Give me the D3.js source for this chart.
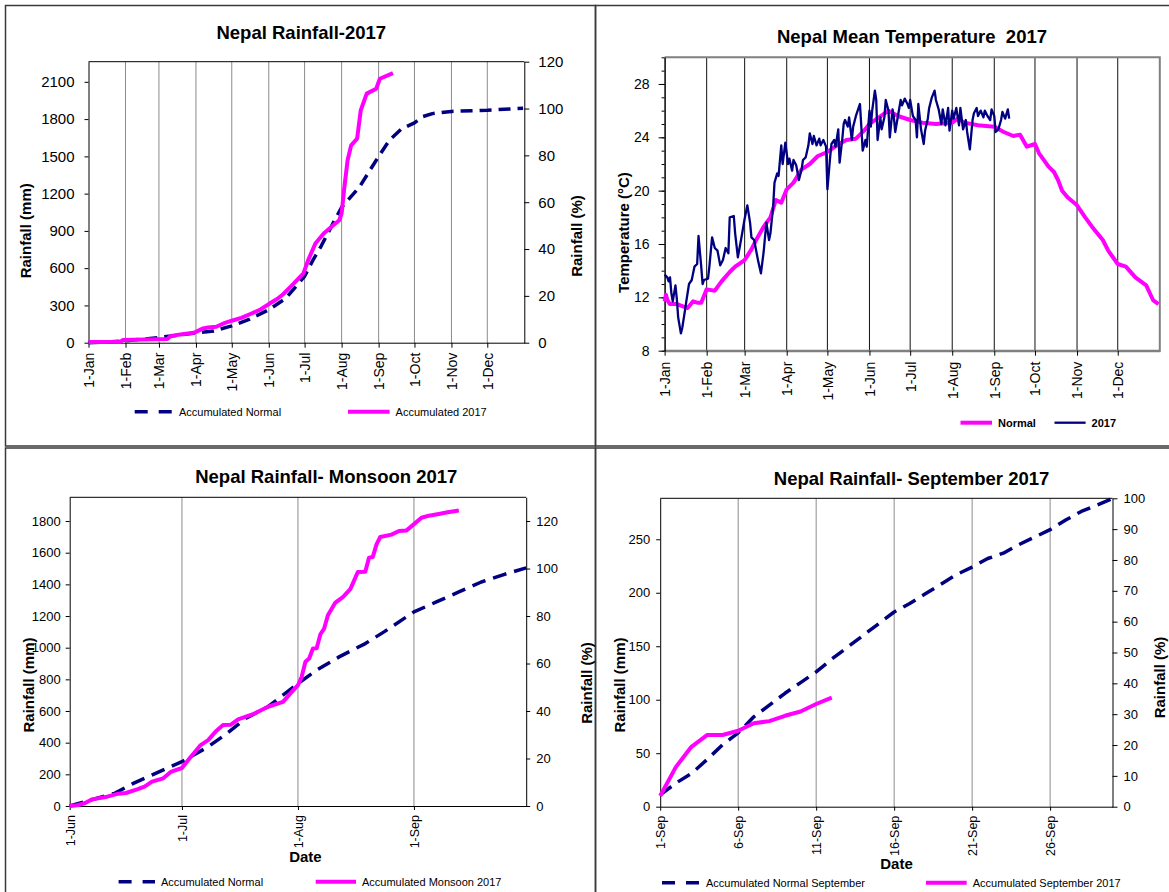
<!DOCTYPE html>
<html><head><meta charset="utf-8">
<script src="https://cdn.jsdelivr.net/npm/d3@7"></script>
<style>
body{margin:0;background:#fff;}
svg{display:block;font-family:"Liberation Sans",Arial,Helvetica,sans-serif;}
text{white-space:pre;}
</style></head><body>
<script>
// ---------------- DATA ----------------
const monthLabels = ["1-Jan","1-Feb","1-Mar","1-Apr","1-May","1-Jun","1-Jul","1-Aug","1-Sep","1-Oct","1-Nov","1-Dec"];
const monthStartDays = [0,31,59,90,120,151,181,212,243,273,304,334];

// Panel 1: annual accumulated rainfall (day of year, mm)
const rainNormDays = [0,15,31,45,59,75,90,105,120,135,151,165,181,188,195,205,212,227,241,252,262,273,280,288,304,334,364];
const rainNorm     = [0,5,15,28,42,60,80,95,135,190,265,355,535,665,780,965,1090,1254,1469,1630,1720,1770,1820,1844,1862,1871,1888];
const rain2017Days = [0,27,29,66,69,80,88,90,96,100,107,113,120,128,137,144,151,158,163,172,180,184,190,197,205,210,212,214,217,220,225,228,233,241,244,255];
const rain2017     = [5,8,22,30,55,70,80,87,115,122,128,155,177,200,237,267,311,352,390,477,558,665,799,879,946,986,1040,1227,1469,1589,1643,1870,2005,2045,2125,2170];

// Panel 2: mean temperature (day of year, °C)
const tempNormDays = [0,1,2,4,9,14,17,21,24,27,31,37,42,48,52,59,64,68,73,78,82,86,90,95,101,107,113,120,127,134,141,147,151,158,165,172,181,190,200,212,216,221,231,243,250,257,262,267,273,276,283,287,290,293,297,304,310,315,323,327,334,340,347,355,360,364];
const tempNorm     = [11.7,12.2,11.8,11.5,11.5,11.3,11.2,11.7,11.6,11.6,12.6,12.5,13.2,13.9,14.3,14.8,15.6,16.4,17.3,18.0,19.3,19.1,20.1,20.6,21.6,22.0,22.6,22.9,23.4,23.8,23.9,24.5,25.0,25.5,26.0,25.6,25.3,25.1,25.0,25.1,25.4,25.1,24.9,24.8,24.4,24.1,24.2,23.3,23.5,22.8,21.8,21.4,20.8,20.0,19.5,18.9,18.0,17.3,16.3,15.5,14.5,14.3,13.5,12.9,11.8,11.5];
const temp2017Days = [0,2,3,4,5,6,8,9,10,12,13,15,16,18,20,22,24,25,27,28,29,32,33,35,37,39,41,43,45,47,48,51,52,54,57,59,61,63,64,66,69,71,73,75,77,78,80,81,83,84,86,87,89,90,91,92,94,95,97,99,101,102,104,106,107,109,110,112,114,115,117,119,120,122,123,125,126,128,129,131,132,133,135,136,138,139,141,143,144,145,146,148,149,151,152,153,155,156,157,159,160,162,163,165,166,168,169,170,172,174,175,177,179,180,181,183,185,186,187,189,191,192,194,195,197,199,200,202,204,205,207,209,210,212,213,215,217,218,220,222,223,225,227,228,230,231,233,235,236,238,240,241,243,244,246,248,249,251,253,254];
const temp2017     = [13.7,13.5,13.2,13.5,12.3,11.7,12.9,11.9,10.5,9.3,9.7,11.0,11.7,13.0,13.3,14.3,14.5,16.6,14.3,13.0,13.3,13.4,14.3,16.5,15.7,15.5,14.4,14.8,15.7,15.3,18.0,18.1,16.8,15.0,16.7,17.9,18.9,17.6,16.5,16.3,14.7,13.8,15.4,17.6,16.3,16.8,18.8,20.6,21.3,21.1,23.4,22.0,23.6,22.8,22.0,22.4,21.5,22.3,21.9,20.8,21.6,22.3,22.5,23.4,24.3,23.5,24.1,23.4,23.9,23.4,23.8,23.3,20.1,22.5,23.5,23.8,23.3,24.6,22.1,23.9,25.0,25.3,24.8,25.5,23.8,24.8,25.6,26.2,26.5,24.8,23.0,23.8,23.3,26.0,24.8,26.0,27.5,26.8,23.8,25.5,24.6,25.5,26.8,26.0,24.0,26.1,25.5,24.4,25.6,26.8,26.4,26.9,26.5,26.2,26.8,25.6,25.3,24.0,26.5,24.6,23.5,24.5,25.4,26.2,27.0,27.5,26.8,26.1,25.0,26.1,24.9,26.2,24.5,26.0,25.4,26.2,24.9,26.2,24.6,25.3,24.4,23.1,25.3,25.8,26.2,25.6,26.0,25.5,26.0,25.6,25.3,26.1,25.6,24.4,24.6,25.3,25.9,25.4,26.1,25.4];

// Panel 3: monsoon accumulated rainfall (days since 1 Jun, mm)
const monsoonTickDays = [0,30,61,92];
const monsoonTickLabels = ["1-Jun","1-Jul","1-Aug","1-Sep"];
const monNormDays = [0,12,17,24,30,37,42,47,53,61,66,72,79,84,92,98,104,110,116,122];
const monNorm     = [0,80,143,217,280,374,458,553,627,774,858,942,1026,1100,1226,1289,1352,1415,1462,1504];
const mon2017Days = [0,2,4,6,10,13,15,18,20,22,25,27,30,32,35,37,39,41,43,45,49,53,57,59,61,62,63,64,65,66,67,68,69,71,73,75,77,79,80,81,82,83,86,88,90,91,94,96,99,101,104];
const mon2017     = [0,5,17,42,59,78,82,105,122,154,175,215,240,300,385,416,470,511,513,547,580,627,658,711,763,816,911,932,995,997,1085,1121,1205,1285,1320,1370,1478,1480,1569,1573,1653,1699,1714,1737,1741,1760,1821,1834,1846,1855,1867];

// Panel 4: September accumulated rainfall (day of month, mm)
const sepTickDays = [1,6,11,16,21,26];
const sepNormDays = [1,2,3,4,5,6,7,8,9,10,11,12,13,14,15,16,17,18,19,20,21,22,23,24,25,26,27,28,29,30];
const sepNorm = [11,22,31,44,58,69,84,95,106,116,126,138,149,160,171,182,190,199,208,217,224,232,237,245,252,259,268,276,282,288];
const sep2017Days = [1,2,3,4,5,6,7,8,9,10,11,12];
const sep2017 = [10,37,56,67,67,71,78,80,85,89,96,102];

// ---------------- DRAWING ----------------
const W = 1169, H = 892;
const MAG = "#ff00ff", NAVY = "#000080", GRID = "#8c8c8c";
const fmtInt = d3.format("d");
const svg = d3.select("body").append("svg").attr("width", W).attr("height", H);

// panel frames
[[5.5,5.5,590,440.5],[595.5,5.5,580,440.5],[5.5,448,590,450],[595.5,448,580,450]].forEach(r=>{
  svg.append("rect").attr("x",r[0]).attr("y",r[1]).attr("width",r[2]).attr("height",r[3])
    .attr("fill","none").attr("stroke","#3a3a3a").attr("stroke-width",1.5);
});

function styleAxis(g, fs){
  g.selectAll(".domain").attr("stroke","#000").attr("stroke-width",1);
  g.selectAll(".tick line").attr("stroke","#000");
  g.selectAll(".tick text").attr("fill","#000").style("font-size", fs+"px");
}
function rotateLabels(g, off){
  g.selectAll(".tick text").attr("transform","rotate(-90)").attr("text-anchor","end")
    .attr("x",-off).attr("y",0).attr("dy","0.35em");
}
function title(x,y,t){
  svg.append("text").attr("x",x).attr("y",y).attr("text-anchor","middle")
    .style("font-size","18.5px").style("font-weight","bold").text(t);
}
function vTitle(x,y,t,fs){
  svg.append("text").attr("transform",`translate(${x},${y}) rotate(-90)`).attr("text-anchor","middle")
    .style("font-size",(fs||15)+"px").style("font-weight","bold").text(t);
}
function legendItem(x1,x2,y,color,width,dash,label,bold){
  svg.append("line").attr("x1",x1).attr("x2",x2).attr("y1",y).attr("y2",y)
    .attr("stroke",color).attr("stroke-width",width).attr("stroke-dasharray",dash||null);
  svg.append("text").attr("x",x2+6).attr("y",y+4).style("font-size","11px")
    .style("font-weight",bold?"bold":"normal").text(label);
}
function drawLine(g, xs, ys, days, vals, color, width, dash){
  const line = d3.line().x(d=>xs(d[0])).y(d=>ys(d[1]));
  g.append("path").datum(d3.zip(days, vals)).attr("d", line).attr("fill","none")
    .attr("stroke",color).attr("stroke-width",width).attr("stroke-linejoin","round")
    .attr("stroke-dasharray",dash||null);
}
function vGrid(g, xs, vals, y0, y1, color){
  g.selectAll(null).data(vals).enter().append("line")
    .attr("x1",d=>xs(d)).attr("x2",d=>xs(d)).attr("y1",y0).attr("y2",y1)
    .attr("stroke",color).attr("stroke-width",1);
}

// ===== Panel 1: Nepal Rainfall-2017 =====
(function(){
  const L=88.5,R=524.3,T=61.7,B=342.7;
  const x = d3.scaleLinear().domain([0,365]).range([L,R]);
  const y = d3.scaleLinear().domain([0,2262]).range([B,T]);
  const y2 = d3.scaleLinear().domain([0,120]).range([B,T]);
  const g = svg.append("g");
  vGrid(g, x, monthStartDays.slice(1), T, B, GRID);
  g.append("line").attr("x1",L).attr("x2",R).attr("y1",T).attr("y2",T).attr("stroke","#000");
  const ax = g.append("g").attr("transform",`translate(0,${B})`)
    .call(d3.axisBottom(x).tickValues(monthStartDays).tickFormat((d,i)=>monthLabels[i]).tickSize(5).tickSizeOuter(0));
  styleAxis(ax,14); rotateLabels(ax,10);
  const ay = g.append("g").attr("transform",`translate(${L},0)`)
    .call(d3.axisLeft(y).tickValues([0,300,600,900,1200,1500,1800,2100]).tickFormat(fmtInt).tickSize(4).tickPadding(10).tickSizeOuter(0));
  styleAxis(ay,15);
  const ay2 = g.append("g").attr("transform",`translate(${R},0)`)
    .call(d3.axisRight(y2).tickValues([0,20,40,60,80,100,120]).tickFormat(fmtInt).tickSize(5).tickPadding(9).tickSizeOuter(0));
  styleAxis(ay2,15);
  drawLine(g, x, y, rainNormDays, rainNorm, NAVY, 3.5, "12,7");
  drawLine(g, x, y, rain2017Days, rain2017, MAG, 4);
  title(301.3,39.3,"Nepal Rainfall-2017");
  vTitle(30.6,230.8,"Rainfall (mm)");
  vTitle(582,236,"Rainfall (%)");
  legendItem(134.7,173,411.7,NAVY,3.5,"13,11","Accumulated Normal");
  legendItem(348,389.6,411.7,MAG,4,null,"Accumulated 2017");
})();

// ===== Panel 2: Nepal Mean Temperature 2017 =====
(function(){
  const L=664.6,R=1159.8,T=57.3,B=350.7;
  const x = d3.scaleLinear().domain([0,365]).range([L,R]);
  const y = d3.scaleLinear().domain([8,30]).range([B,T]);
  const g = svg.append("g");
  vGrid(g, x, monthStartDays.slice(1), T, B, "#111");
  g.append("path").attr("d",`M${L},${T}H${R}V${B}H${L}`).attr("fill","none").attr("stroke","#808080").attr("stroke-width",2);
  const ax = g.append("g").attr("transform",`translate(0,${B})`)
    .call(d3.axisBottom(x).tickValues(monthStartDays).tickFormat((d,i)=>monthLabels[i]).tickSize(5).tickSizeOuter(0));
  styleAxis(ax,14); rotateLabels(ax,11);
  ax.select(".domain").attr("stroke","#808080").attr("stroke-width",2);
  const aym = g.append("g").attr("transform",`translate(${L},0)`)
    .call(d3.axisLeft(y).tickValues(d3.range(8,31)).tickFormat("").tickSize(3).tickSizeOuter(0));
  styleAxis(aym,14);
  const ay = g.append("g").attr("transform",`translate(${L},0)`)
    .call(d3.axisLeft(y).tickValues([8,12,16,20,24,28]).tickFormat(fmtInt).tickSize(6).tickPadding(9).tickSizeOuter(0));
  styleAxis(ay,14);
  drawLine(g, x, y, tempNormDays, tempNorm, MAG, 4);
  drawLine(g, x, y, temp2017Days, temp2017, NAVY, 2.3);
  title(912,43.3,"Nepal Mean Temperature\u00A0\u00A02017");
  vTitle(629,232.5,"Temperature (\u00B0C)");
  legendItem(960.5,992,422.7,MAG,4,null,"Normal",true);
  legendItem(1054.5,1085.6,422.7,NAVY,2.3,null,"2017",true);
})();

// ===== Panel 3: Nepal Rainfall- Monsoon 2017 =====
(function(){
  const L=69.7,R=526.2,T=497.3,B=806;
  const x = d3.scaleLinear().domain([0,122]).range([L,R]);
  const y = d3.scaleLinear().domain([0,1950]).range([B,T]);
  const y2 = d3.scaleLinear().domain([0,130]).range([B,T]);
  const g = svg.append("g");
  vGrid(g, x, monsoonTickDays.slice(1), T, B, GRID);
  g.append("line").attr("x1",L).attr("x2",R).attr("y1",T).attr("y2",T).attr("stroke","#000");
  const ax = g.append("g").attr("transform",`translate(0,${B})`)
    .call(d3.axisBottom(x).tickValues(monsoonTickDays).tickFormat((d,i)=>monsoonTickLabels[i]).tickSize(4).tickSizeOuter(0));
  styleAxis(ax,12.5); rotateLabels(ax,9);
  const ay = g.append("g").attr("transform",`translate(${L},0)`)
    .call(d3.axisLeft(y).tickValues(d3.range(0,1801,200)).tickFormat(fmtInt).tickSize(4).tickPadding(5).tickSizeOuter(0));
  styleAxis(ay,13);
  const ay2 = g.append("g").attr("transform",`translate(${R},0)`)
    .call(d3.axisRight(y2).tickValues(d3.range(0,121,20)).tickFormat(fmtInt).tickSize(4).tickPadding(6).tickSizeOuter(0));
  styleAxis(ay2,13);
  drawLine(g, x, y, monNormDays, monNorm, NAVY, 3.5, "14,8");
  drawLine(g, x, y, mon2017Days, mon2017, MAG, 4);
  title(326.3,483.3,"Nepal Rainfall- Monsoon 2017");
  vTitle(33.5,685,"Rainfall (mm)");
  vTitle(592,683,"Rainfall (%)");
  svg.append("text").attr("x",305.4).attr("y",861.7).attr("text-anchor","middle")
    .style("font-size","15px").style("font-weight","bold").text("Date");
  legendItem(118.6,155,881.7,NAVY,3.5,"13,11","Accumulated Normal");
  legendItem(315.7,356,881.7,MAG,4,null,"Accumulated Monsoon 2017");
})();

// ===== Panel 4: Nepal Rainfall- September 2017 =====
(function(){
  const L=660.2,R=1112.5,T=498.3,B=806.7;
  const x = d3.scaleLinear().domain([1,30]).range([L,R]);
  const y = d3.scaleLinear().domain([0,288.3]).range([B,T]);
  const y2 = d3.scaleLinear().domain([0,100]).range([B,T]);
  const g = svg.append("g");
  vGrid(g, x, sepTickDays.slice(1), T, B, GRID);
  g.append("line").attr("x1",L).attr("x2",R).attr("y1",T).attr("y2",T).attr("stroke","#000");
  const ax = g.append("g").attr("transform",`translate(0,${B})`)
    .call(d3.axisBottom(x).tickValues(sepTickDays).tickFormat(d=>d+"-Sep").tickSize(4).tickSizeOuter(0));
  styleAxis(ax,12.5); rotateLabels(ax,9);
  const ay = g.append("g").attr("transform",`translate(${L},0)`)
    .call(d3.axisLeft(y).tickValues(d3.range(0,251,50)).tickFormat(fmtInt).tickSize(4).tickPadding(6).tickSizeOuter(0));
  styleAxis(ay,13);
  const ay2 = g.append("g").attr("transform",`translate(${R},0)`)
    .call(d3.axisRight(y2).tickValues(d3.range(0,101,10)).tickFormat(fmtInt).tickSize(5).tickPadding(6).tickSizeOuter(0));
  styleAxis(ay2,13);
  drawLine(g, x, y, sepNormDays, sepNorm, NAVY, 3.5, "14,8");
  drawLine(g, x, y, sep2017Days, sep2017, MAG, 4);
  title(911.6,485,"Nepal Rainfall- September 2017");
  vTitle(625,685,"Rainfall (mm)");
  vTitle(1165,677.5,"Rainfall (%)");
  svg.append("text").attr("x",896.5).attr("y",869.3).attr("text-anchor","middle")
    .style("font-size","15px").style("font-weight","bold").text("Date");
  legendItem(662,700,882.7,NAVY,3.5,"13,11","Accumulated Normal September");
  legendItem(926,966.7,882.7,MAG,4,null,"Accumulated September 2017");
})();
</script>
</body></html>
